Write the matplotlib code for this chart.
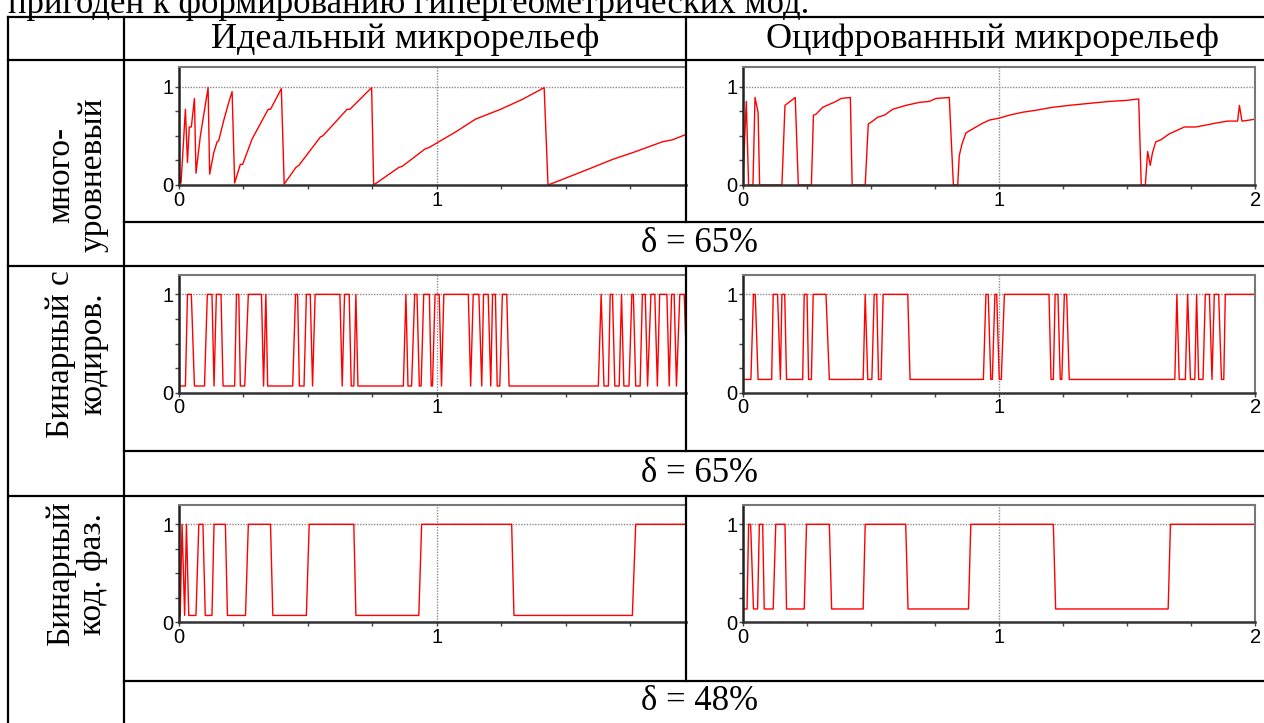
import numpy as np
import matplotlib.pyplot as plt
from matplotlib.lines import Line2D
from matplotlib.ticker import MultipleLocator

W, H = 1264, 723

# многоуровневый, идеальный микрорельеф
multi_ideal_x = [0, 0.009, 0.026, 0.034, 0.041, 0.049, 0.061, 0.067, 0.084, 0.114,
                 0.120, 0.136, 0.149, 0.155, 0.175, 0.194, 0.207, 0.217, 0.239, 0.248,
                 0.285, 0.347, 0.356, 0.398, 0.409, 0.455, 0.466, 0.550, 0.559, 0.653,
                 0.664, 0.748, 0.756, 0.854, 0.867, 0.957, 0.970, 1.074, 1.151, 1.248,
                 1.332, 1.417, 1.432, 1.481, 1.578, 1.682, 1.772, 1.876, 1.915, 1.973]
multi_ideal_y = [0.15, 0.02, 0.77, 0.23, 0.59, 0.59, 0.88, 0.12, 0.50, 0.99,
                 0.11, 0.33, 0.44, 0.45, 0.66, 0.84, 0.95, 0.02, 0.21, 0.21,
                 0.47, 0.77, 0.77, 0.98, 0.01, 0.18, 0.20, 0.49, 0.50, 0.77,
                 0.77, 0.99, 0.00, 0.18, 0.19, 0.37, 0.38, 0.54, 0.67, 0.77,
                 0.87, 0.99, 0.00, 0.05, 0.15, 0.26, 0.34, 0.44, 0.46, 0.52]

# многоуровневый, оцифрованный микрорельеф
multi_digit_x = [0, 0.014, 0.023, 0.040, 0.048, 0.060, 0.066, 0.153, 0.165, 0.205,
                 0.217, 0.268, 0.276, 0.286, 0.312, 0.338, 0.364, 0.384, 0.420, 0.427,
                 0.478, 0.490, 0.507, 0.527, 0.553, 0.585, 0.637, 0.689, 0.728, 0.754,
                 0.806, 0.822, 0.839, 0.845, 0.856, 0.871, 0.884, 0.930, 0.962, 1.001,
                 1.040, 1.092, 1.144, 1.209, 1.274, 1.352, 1.430, 1.495, 1.545, 1.555,
                 1.571, 1.580, 1.590, 1.599, 1.612, 1.632, 1.664, 1.690, 1.723, 1.768,
                 1.808, 1.847, 1.892, 1.931, 1.938, 1.948, 1.964, 2.000]
multi_digit_y = [0, 0.85, 0, 0, 0.89, 0.74, 0, 0, 0.81, 0.89,
                 0, 0, 0.71, 0.72, 0.79, 0.82, 0.85, 0.88, 0.89, 0,
                 0, 0.62, 0.65, 0.69, 0.71, 0.77, 0.81, 0.84, 0.85, 0.88,
                 0.89, 0, 0, 0.30, 0.42, 0.53, 0.55, 0.62, 0.66, 0.68,
                 0.71, 0.74, 0.76, 0.79, 0.81, 0.83, 0.85, 0.86, 0.875, 0,
                 0, 0.34, 0.20, 0.33, 0.44, 0.46, 0.52, 0.55, 0.59, 0.59,
                 0.61, 0.63, 0.65, 0.65, 0.81, 0.65, 0.655, 0.67]

# бинарный с кодированием: вершины (x, состояние 0/1) и нижний уровень
code_ideal_x = [0, 0.026, 0.034, 0.049, 0.061, 0.100, 0.111, 0.129, 0.137, 0.146,
                0.164, 0.172, 0.217, 0.224, 0.233, 0.239, 0.256, 0.270, 0.321, 0.329,
                0.338, 0.345, 0.442, 0.453, 0.461, 0.468, 0.486, 0.495, 0.510, 0.519,
                0.529, 0.625, 0.634, 0.643, 0.661, 0.669, 0.679, 0.687, 0.695, 0.871,
                0.881, 0.889, 0.903, 0.915, 0.924, 0.933, 0.940, 0.950, 0.972, 0.979,
                0.984, 0.994, 1.010, 1.019, 1.028, 1.123, 1.132, 1.142, 1.164, 1.175,
                1.182, 1.200, 1.210, 1.217, 1.228, 1.235, 1.245, 1.255, 1.272, 1.281,
                1.627, 1.638, 1.649, 1.666, 1.673, 1.682, 1.691, 1.708, 1.717, 1.726,
                1.746, 1.757, 1.763, 1.772, 1.789, 1.798, 1.809, 1.818, 1.831, 1.846,
                1.856, 1.865, 1.893, 1.902, 1.911, 1.921, 1.930, 1.943, 1.960, 1.972]
code_ideal_s = [0, 0, 1, 1, 0, 0, 1, 1, 0, 1,
                1, 0, 0, 1, 1, 0, 0, 1, 1, 0,
                1, 0, 0, 1, 1, 0, 0, 1, 1, 0,
                1, 1, 0, 1, 1, 0, 0, 1, 0, 0,
                1, 0, 0, 1, 1, 0, 0, 1, 1, 0,
                0, 1, 1, 0, 1, 1, 0, 1, 1, 0,
                1, 1, 0, 1, 1, 0, 0, 1, 1, 0,
                0, 1, 0, 0, 1, 1, 0, 0, 1, 0,
                0, 1, 1, 0, 0, 1, 1, 0, 1, 1,
                0, 1, 1, 0, 1, 1, 0, 1, 1, 0]
code_ideal_low = 0.068

code_digit_x = [0, 0.032, 0.042, 0.049, 0.060, 0.113, 0.119, 0.136, 0.147, 0.153,
                0.164, 0.171, 0.234, 0.240, 0.251, 0.257, 0.268, 0.275, 0.325, 0.338,
                0.470, 0.478, 0.488, 0.504, 0.513, 0.523, 0.530, 0.540, 0.548, 0.644,
                0.653, 0.939, 0.949, 0.958, 0.968, 0.974, 0.984, 0.991, 1.001, 1.009,
                1.021, 1.195, 1.203, 1.212, 1.219, 1.230, 1.239, 1.245, 1.255, 1.264,
                1.274, 1.686, 1.694, 1.703, 1.727, 1.736, 1.747, 1.764, 1.771, 1.779,
                1.796, 1.805, 1.821, 1.831, 1.840, 1.857, 1.868, 1.877, 1.883, 2.000]
code_digit_s = [0, 0, 1, 1, 0, 0, 1, 1, 0, 1,
                1, 0, 0, 1, 1, 0, 0, 1, 1, 0,
                0, 1, 0, 0, 1, 1, 0, 0, 1, 1,
                0, 0, 1, 1, 0, 0, 1, 1, 0, 0,
                1, 1, 0, 0, 1, 1, 0, 0, 1, 1,
                0, 0, 1, 0, 0, 1, 0, 0, 1, 0,
                0, 1, 1, 0, 1, 1, 0, 0, 1, 1]
code_digit_low = 0.135

# бинарный кодированный фазовый
phase_ideal_x = [0, 0.006, 0.013, 0.023, 0.030, 0.039, 0.067, 0.078, 0.094, 0.103,
                 0.129, 0.137, 0.181, 0.189, 0.259, 0.270, 0.356, 0.365, 0.495, 0.506,
                 0.679, 0.687, 0.931, 0.942, 1.291, 1.300, 1.759, 1.772, 1.972]
phase_ideal_s = [0, 0, 1, 0, 1, 0, 0, 1, 1, 0,
                 0, 1, 1, 0, 0, 1, 1, 0, 0, 1,
                 1, 0, 0, 1, 1, 0, 0, 1, 1]
phase_ideal_low = 0.07

phase_digit_x = [0, 0.017, 0.023, 0.031, 0.042, 0.058, 0.065, 0.078, 0.084, 0.119,
                 0.129, 0.165, 0.171, 0.240, 0.249, 0.338, 0.347, 0.470, 0.478, 0.636,
                 0.645, 0.881, 0.890, 1.212, 1.221, 1.660, 1.669, 2.000]
phase_digit_s = [0, 0, 1, 1, 0, 0, 1, 1, 0, 0,
                 1, 1, 0, 0, 1, 1, 0, 0, 1, 1,
                 0, 0, 1, 1, 0, 0, 1, 1]
phase_digit_low = 0.136

col_titles = ['Идеальный микрорельеф', 'Оцифрованный микрорельеф']
row_titles = ['много-\nуровневый', 'Бинарный с\nкодиров.', 'Бинарный\nкод. фаз.']
deltas = ['δ = 65%', 'δ = 65%', 'δ = 48%']
top_line = 'пригоден к формированию гипергеометрических мод.'


def levels(s, low):
    s = np.asarray(s, dtype=float)
    return low + s * (1 - low)


def fx(x):
    return x / W


def fy(y):
    return 1 - y / H


fig = plt.figure(figsize=(W / 100, H / 100), dpi=100)
serif = 'Liberation Serif'


def add_plot(x0, x1, top, bottom, xmax, xs, ys, is_right):
    ax = fig.add_axes([fx(x0), fy(bottom), (x1 - x0) / W, (bottom - top) / H])
    ax.plot(xs, ys, color='#ff0000', lw=1.0)
    ax.set_xlim(0, xmax)
    ax.set_ylim(0, 1.2)
    ax.set_xticks([0, 1, 2] if is_right else [0, 1])
    ax.set_yticks([0, 1])
    ax.xaxis.set_minor_locator(MultipleLocator(0.25))
    ax.yaxis.set_minor_locator(MultipleLocator(0.25))
    ax.grid(which='major', ls=(0, (1, 1)), color='#8c8c8c', lw=1.0)
    ax.tick_params(which='both', direction='out', length=3, width=1, color='#444',
                   labelsize=14.5, pad=1)
    for lab in ax.get_xticklabels() + ax.get_yticklabels():
        lab.set_family('Liberation Sans')
    ax.spines['left'].set_color('#222')
    ax.spines['left'].set_linewidth(1.8)
    ax.spines['bottom'].set_color('#333')
    ax.spines['bottom'].set_linewidth(1.8)
    ax.spines['top'].set_color('#777')
    ax.spines['top'].set_linewidth(1.5)
    ax.spines['right'].set_color('#777')
    ax.spines['right'].set_linewidth(1.5)
    ax.spines['right'].set_visible(is_right)
    return ax


rows = [(67, 185), (274.7, 392.7), (504.7, 622.3)]
left_series = [(multi_ideal_x, multi_ideal_y),
               (code_ideal_x, levels(code_ideal_s, code_ideal_low)),
               (phase_ideal_x, levels(phase_ideal_s, phase_ideal_low))]
right_series = [(multi_digit_x, multi_digit_y),
                (code_digit_x, levels(code_digit_s, code_digit_low)),
                (phase_digit_x, levels(phase_digit_s, phase_digit_low))]

for (top, bottom), (lx, ly), (rx, ry) in zip(rows, left_series, right_series):
    add_plot(178.7, 686, top, bottom, 1.967, lx, ly, False)
    add_plot(742.7, 1255.3, top, bottom, 2.0, rx, ry, True)

# table grid
hlines = [(8, 1264, 17), (8, 1264, 60), (124, 1264, 222), (8, 1264, 266),
          (124, 1264, 451), (8, 1264, 496), (124, 1264, 681)]
vlines = [(8, 17, 723), (124, 17, 723), (686, 17, 222), (686, 266, 451), (686, 496, 681)]
for a, b, y in hlines:
    fig.add_artist(Line2D([fx(a), fx(b)], [fy(y), fy(y)], color='black', lw=1.6, zorder=10))
for x, a, b in vlines:
    fig.add_artist(Line2D([fx(x), fx(x)], [fy(a), fy(b)], color='black', lw=1.6, zorder=10))

fig.text(fx(8), fy(13), top_line, ha='left', va='baseline', fontsize=25, family=serif)
fig.text(fx(405), fy(39), col_titles[0], ha='center', va='center', fontsize=26, family=serif)
fig.text(fx(992), fy(39), col_titles[1], ha='center', va='center', fontsize=26, family=serif)

for yc, label in zip([175, 354, 574], row_titles):
    fig.text(fx(77), fy(yc), label, ha='center', va='center', rotation=90,
             fontsize=24, family=serif, linespacing=1.05)

for yc, d in zip([244, 474, 702], deltas):
    fig.text(fx(700), fy(yc), d, ha='center', va='center', fontsize=25, family=serif)

fig.savefig('out.png', dpi=100)
